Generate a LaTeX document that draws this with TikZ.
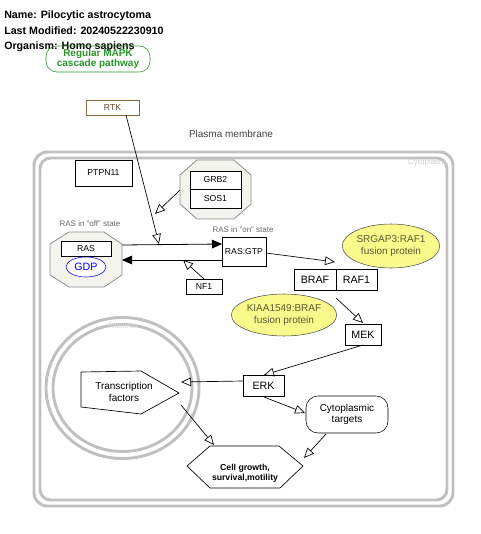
\documentclass[tikz,border=0pt]{standalone}
\usepackage{fontspec}
\setmainfont{Liberation Sans}
\usetikzlibrary{arrows.meta,shapes.geometric,calc}
\definecolor{memb}{RGB}{192,192,192}
\definecolor{octfill}{RGB}{244,244,238}
\definecolor{octline}{RGB}{140,140,140}
\definecolor{fusfill}{RGB}{250,250,140}
\definecolor{fustext}{RGB}{90,90,50}
\definecolor{mapkgreen}{RGB}{40,150,40}
\definecolor{rtkbrown}{RGB}{140,100,60}
\tikzset{
  gene/.style={draw=black,rectangle,minimum height=0pt,inner sep=0pt,font=\fontsize{7.5}{8}\selectfont},
  lbl/.style={font=\fontsize{6}{7}\selectfont,text=black!60},
  fus/.style={draw=black!70,fill=fusfill,ellipse,inner sep=0pt,text=fustext,font=\fontsize{7.5}{8.5}\selectfont,align=center},
  act/.style={-{Triangle[open,length=7.5pt,width=6.5pt]},black,line width=0.5pt},
  conv/.style={-{Triangle[length=7.5pt,width=6.5pt]},black,line width=0.6pt},
  membl/.style={draw=memb,line width=2.2pt},
  octo/.style={draw=octline,fill=octfill,line width=0.6pt},
  ttl/.style={anchor=west,inner sep=0pt,font=\bfseries\fontsize{8}{9}\selectfont},
}
\begin{document}
\begin{tikzpicture}[x=0.75pt,y=-0.75pt]
\useasboundingbox (0,0) rectangle (480,534);
% title
\node[ttl] (t1) at (4,16) {Name: Pilocytic astrocytoma};
\node[ttl] (t2) at (4,31) {Last Modified: 20240522230910};
\node[ttl] (t3) at (4,47) {Organism: Homo sapiens};
% cell membranes
\draw[membl,rounded corners=10pt] (34,152) rectangle (453,506);
\draw[membl,rounded corners=8pt] (40,158) rectangle (447,500);
\node[font=\fontsize{6}{7}\selectfont,text=black!20] (cyto) at (427,162) {Cytoplasm};
\node[font=\fontsize{7.5}{8}\selectfont,text=black!75] (pm) at (231,134) {Plasma membrane};
% nucleus
\draw[membl] (122.5,388) ellipse [x radius=76.5, y radius=70.5];
\draw[membl] (122.5,388) ellipse [x radius=69.5, y radius=63.5];
\node[font=\fontsize{6}{7}\selectfont,text=black!15] (nuc) at (123,326) {Nucleus};
% MAPK
\node[draw=mapkgreen,rounded corners=8pt,minimum width=104*0.75pt,minimum height=26*0.75pt,inner sep=0pt,align=center,text=mapkgreen,font=\bfseries\fontsize{7.5}{8}\selectfont] (mapk) at (98,59) {Regular MAPK\\cascade pathway};
% RTK
\node[gene,draw=rtkbrown,text=rtkbrown!70!black,minimum width=53*0.75pt,minimum height=15*0.75pt,font=\fontsize{6.5}{7}\selectfont] (rtk) at (112.5,107.5) {RTK};
% PTPN11
\node[gene,minimum width=57*0.75pt,minimum height=26*0.75pt,font=\fontsize{6.5}{7}\selectfont] (ptpn) at (103.5,173) {PTPN11};
% GRB2 SOS1 complex
\draw[octo] (197,160) -- (234,160) -- (251,175) -- (251,204) -- (234,219) -- (197,219) -- (180,204) -- (180,175) -- cycle;
\node[gene,fill=white,minimum width=51*0.75pt,minimum height=18*0.75pt,font=\fontsize{6.5}{7}\selectfont] (grb2) at (215.5,180) {GRB2};
\node[gene,fill=white,minimum width=51*0.75pt,minimum height=19*0.75pt,font=\fontsize{6.5}{7}\selectfont] (sos1) at (215.5,198.5) {SOS1};
% RAS off
\node[lbl] (offl) at (90,224) {RAS in "off" state};
\draw[octo] (69,232) -- (104,232) -- (122,244) -- (122,275) -- (104,287) -- (69,287) -- (50,275) -- (50,244) -- cycle;
\node[gene,fill=white,minimum width=50*0.75pt,minimum height=15*0.75pt,font=\fontsize{6.5}{7}\selectfont] (ras) at (86,248.5) {RAS};
\node[draw=blue,ellipse,fill=white,minimum width=40*0.75pt,minimum height=20*0.75pt,inner sep=0pt,text=blue,font=\fontsize{8}{9}\selectfont] (gdp) at (86,267) {GDP};
% RAS on
\node[lbl] (onl) at (243,230) {RAS in "on" state};
\node[gene,minimum width=44*0.75pt,minimum height=29*0.75pt,font=\fontsize{6.5}{7}\selectfont] (rasgtp) at (244,251.5) {RAS:GTP};
% NF1
\node[gene,minimum width=36*0.75pt,minimum height=15*0.75pt,font=\fontsize{6.5}{7}\selectfont] (nf1) at (204,286.5) {NF1};
% BRAF RAF1
\node[gene,minimum width=42*0.75pt,minimum height=21*0.75pt,font=\fontsize{8}{9}\selectfont] (braf) at (315,279.5) {BRAF};
\node[gene,minimum width=41*0.75pt,minimum height=21*0.75pt,font=\fontsize{8}{9}\selectfont] (raf1) at (356.5,279.5) {RAF1};
% fusions
\node[fus,minimum width=97*0.75pt,minimum height=44*0.75pt] (srg) at (391,246) {SRGAP3:RAF1\\fusion protein};
\node[fus,minimum width=96*0.75pt,minimum height=42*0.75pt] (kia) at (284,315) {KIAA1549:BRAF\\fusion protein};
% MEK ERK
\node[gene,minimum width=36*0.75pt,minimum height=21*0.75pt,font=\fontsize{8}{9}\selectfont] (mek) at (363,334.5) {MEK};
\node[gene,minimum width=41*0.75pt,minimum height=21*0.75pt,font=\fontsize{8}{9}\selectfont] (erk) at (263.5,385.5) {ERK};
% Transcription factors pentagon
\coordinate (tfa) at (81,372);
\coordinate (tfb) at (141,371);
\coordinate (tfc) at (179,393);
\coordinate (tfd) at (141,414);
\coordinate (tfe) at (81,407);
\draw[black,line width=0.5pt] (tfa) -- (tfb) -- (tfc) -- (tfd) -- (tfe) -- cycle;
\node[align=center,font=\fontsize{7.5}{8.5}\selectfont] (tf) at (124,392) {Transcription\\factors};
% Cytoplasmic targets
\node[draw=black,rounded corners=9pt,minimum width=82*0.75pt,minimum height=37*0.75pt,inner sep=0pt,align=center,font=\fontsize{7.5}{8.5}\selectfont] (ct) at (347,414.5) {Cytoplasmic\\targets};
% Cell growth hexagon
\coordinate (ha) at (187,466);
\coordinate (hb) at (210,446);
\coordinate (hc) at (279,446);
\coordinate (hd) at (303,466);
\coordinate (he) at (280,488);
\coordinate (hf) at (210,488);
\draw[black,line width=0.5pt] (ha) -- (hb) -- (hc) -- (hd) -- (he) -- (hf) -- cycle;
\node[align=center,font=\bfseries\fontsize{6.5}{7.5}\selectfont] (cg) at (245,473) {Cell growth,\\survival,motility};
% interaction anchors
\coordinate (rtkend) at (159,244);
\coordinate (grbend) at (155,214);
\coordinate (nf1end) at (183,260);
\coordinate (rasout) at (122,245);
\coordinate (rasin) at (122,260);
\coordinate (gtpin) at (222,244);
\coordinate (gtpout) at (222,260);
\coordinate (rafend) at (335,262);
\coordinate (brafst) at (336,298);
\coordinate (mekend) at (363,323);
\coordinate (mekst) at (363,345);
\coordinate (erkend) at (264,375);
\coordinate (erkl) at (243,381);
\coordinate (tfend) at (181,382);
\coordinate (erkb) at (264,397);
\coordinate (ctend) at (305,413);
\coordinate (tfst) at (181,405);
\coordinate (cgend1) at (214,445);
\coordinate (ctst) at (326,434);
\coordinate (cgend2) at (304,458);
\coordinate (rtkst) at (126,115);
\coordinate (grbst) at (180,190);
\coordinate (nf1st) at (204,279);
\coordinate (gtpst) at (266,253);
% edges
\draw[conv] (rasout) -- (gtpin);
\draw[conv] (gtpout) -- (rasin);
\draw[act] (rtkst) -- (rtkend);
\draw[act] (grbst) -- (grbend);
\draw[act] (nf1st) -- (nf1end);
\draw[act] (gtpst) -- (rafend);
\draw[act] (brafst) -- (mekend);
\draw[act] (mekst) -- (erkend);
\draw[act] (erkl) -- (tfend);
\draw[act] (erkb) -- (ctend);
\draw[act] (tfst) -- (cgend1);
\draw[act] (ctst) -- (cgend2);
\end{tikzpicture}
\end{document}
